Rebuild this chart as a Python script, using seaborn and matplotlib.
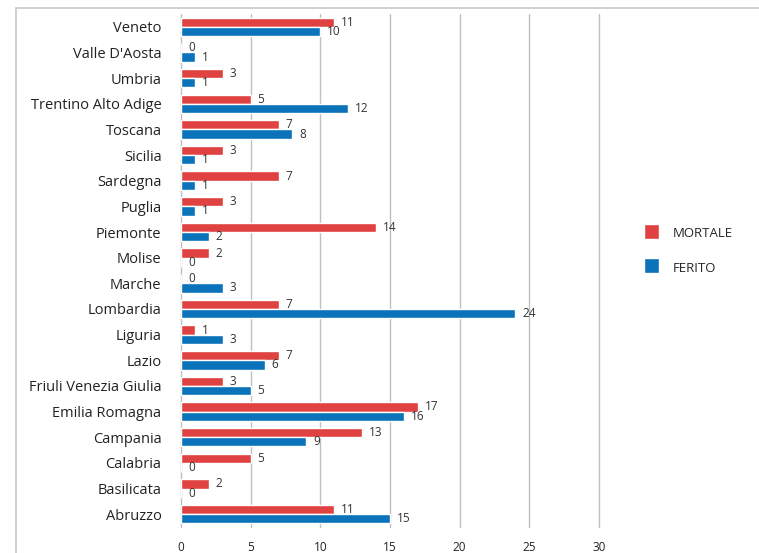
import pandas as pd
import matplotlib.pyplot as plt
import seaborn as sns
from matplotlib.patches import Rectangle

# Regions, top to bottom as in the chart
regioni = ['Veneto', "Valle D'Aosta", 'Umbria', 'Trentino Alto Adige', 'Toscana',
           'Sicilia', 'Sardegna', 'Puglia', 'Piemonte', 'Molise', 'Marche',
           'Lombardia', 'Liguria', 'Lazio', 'Friuli Venezia Giulia',
           'Emilia Romagna', 'Campania', 'Calabria', 'Basilicata', 'Abruzzo']
mortale = [11, 0, 3, 5, 7, 3, 7, 3, 14, 2, 0, 7, 1, 7, 3, 17, 13, 5, 2, 11]
ferito = [10, 1, 1, 12, 8, 1, 1, 1, 2, 0, 3, 24, 3, 6, 5, 16, 9, 0, 0, 15]
x_ticks = [0, 5, 10, 15, 20, 25, 30]

# long format for seaborn
df = pd.DataFrame({'Regione': regioni * 2,
                   'Valore': mortale + ferito,
                   'Tipo': ['MORTALE'] * len(regioni) + ['FERITO'] * len(regioni)})

sns.set_style('white')
plt.rcParams['font.family'] = ['Open Sans', 'DejaVu Sans']

fig = plt.figure(figsize=(7.59, 5.53), dpi=100)
ax = fig.add_axes([181 / 759, 26 / 553, 418 / 759, 513 / 553])

# outer chart border like the spreadsheet frame
fig.patches.append(Rectangle((16 / 759, -0.01), 1.0, (553 - 8) / 553 + 0.01,
                             transform=fig.transFigure, fill=False,
                             edgecolor='#c8c8c8', linewidth=1.2))

palette = {'MORTALE': '#e04141', 'FERITO': '#0b73ba'}
sns.barplot(data=df, y='Regione', x='Valore', hue='Tipo', order=regioni,
            hue_order=['MORTALE', 'FERITO'], palette=palette, orient='h',
            width=0.72, saturation=1, ax=ax)

for cont in ax.containers:
    ax.bar_label(cont, padding=5, fontsize=8.5, color='#333333')

ax.set_xlim(0, 30)
ax.set_ylim(19.5, -0.5)
ax.set_xticks(x_ticks)
ax.xaxis.grid(True, color='#c0c0c0', linewidth=1)
for gl in ax.get_xgridlines():
    gl.set_clip_on(False)
ax.set_axisbelow(True)
for s in ax.spines.values():
    s.set_visible(False)
ax.set_xlabel('')
ax.set_ylabel('')
ax.tick_params(axis='y', labelsize=10.5, colors='#222222', length=0, pad=14)
ax.tick_params(axis='x', labelsize=8.5, colors='#222222', length=0, pad=10)

ax.legend(loc='center left', bbox_to_anchor=(637 / 759, 1 - 251 / 553),
          bbox_transform=fig.transFigure, frameon=False, fontsize=9.5,
          handlelength=1.0, handleheight=1.0, labelspacing=1.6,
          handletextpad=1.2, borderpad=0)
for h in ax.get_legend().legend_handles:
    h.set_height(11)
    h.set_width(11)

fig.savefig('out.png', dpi=100)
